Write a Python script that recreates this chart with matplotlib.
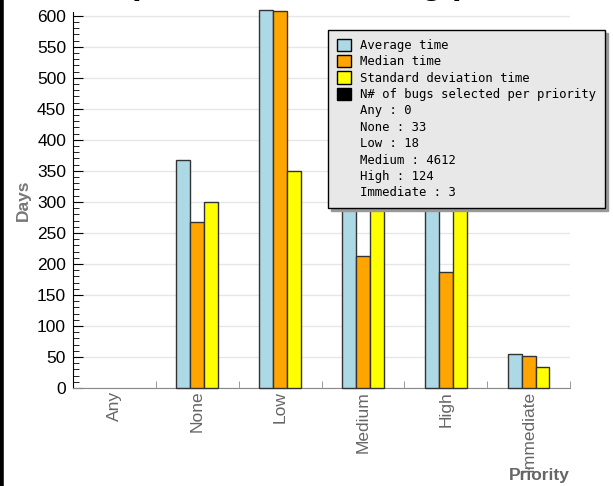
import numpy as np
import matplotlib.pyplot as plt
from matplotlib.patches import Patch
from matplotlib.lines import Line2D

priorities = ["Any", "None", "Low", "Medium", "High", "Immediate"]
average_time = [0, 368, 610, 420, 380, 55]
median_time = [0, 267, 608, 212, 187, 51]
std_time = [0, 300, 350, 440, 400, 34]
bug_counts = [0, 33, 18, 4612, 124, 3]

fig = plt.figure(figsize=(6.13, 4.86), dpi=100)
ax = fig.add_axes([0.119, 0.2016, 0.811, 0.7736])

x = np.arange(len(priorities))
w = 0.167
for off, vals, col in [(-w, average_time, "#add8e6"),
                       (0, median_time, "#ffa500"),
                       (w, std_time, "#ffff00")]:
    edges = ["#333333" if v > 0 else "none" for v in vals]
    ax.bar(x + off, vals, w, color=col, edgecolor=edges, linewidth=1,
           clip_on=False, zorder=3)

ax.set_xlim(-0.5, 5.5)
ax.set_ylim(0, 606)
ax.set_yticks(np.arange(0, 601, 50))
ax.set_yticks(np.arange(0, 601, 10), minor=True)
ax.grid(axis="y", color="#e6e6e6", linewidth=1, zorder=0)
ax.set_axisbelow(True)

ax.set_xticks(x)
ax.set_xticklabels(priorities, rotation=90, color="#666666", fontsize=12.5,
                   family="Liberation Sans")
ax.set_xticks(np.arange(0.5, 5.6, 1), minor=True)
ax.tick_params(axis="x", which="major", length=0, pad=2)
ax.tick_params(axis="x", which="minor", direction="in", length=5, color="#888888")
ax.tick_params(axis="y", which="major", direction="in", length=7, color="black",
               labelsize=12.5, pad=5)
ax.tick_params(axis="y", which="minor", direction="in", length=4, color="black")
for lab in ax.get_yticklabels():
    lab.set_family("Liberation Sans")

for s in ["top", "right"]:
    ax.spines[s].set_visible(False)
ax.spines["bottom"].set_color("#888888")
ax.spines["left"].set_color("black")

ax.set_ylabel("Days", color="#777777", fontsize=12.5, fontweight="bold",
              family="Liberation Sans", labelpad=4)
fig.text(0.93, 0.006, "Priority", color="#666666", fontsize=12.5, fontweight="bold",
         family="Liberation Sans", ha="right", va="bottom")

# big title, cut off by the top edge: only the descenders peek in
fig.text(0.03, 1.0 + 6 / 486, "Development time on bug priorities",
         ha="left", va="baseline", fontsize=25, fontweight="bold",
         color="black", family="Liberation Sans")

handles = [Patch(facecolor="#add8e6", edgecolor="black"),
           Patch(facecolor="#ffa500", edgecolor="black"),
           Patch(facecolor="#ffff00", edgecolor="black"),
           Patch(facecolor="black", edgecolor="black")]
labels = ["Average time", "Median time", "Standard deviation time",
          "N# of bugs selected per priority"]
for p, n in zip(priorities, bug_counts):
    handles.append(Patch(facecolor="none", edgecolor="none"))
    labels.append(f"{p} : {n}")

leg = fig.legend(handles, labels, loc="upper left",
                 bbox_to_anchor=(0.535, 0.938), frameon=True, fancybox=False,
                 shadow={"color": "#999999", "alpha": 1},
                 prop={"family": "DejaVu Sans Mono", "size": 8.8},
                 handlelength=1.15, handleheight=1.15, handletextpad=0.8,
                 labelspacing=0.26, borderpad=0.7, borderaxespad=0)
leg.get_frame().set_facecolor("#e8e8e8")
leg.get_frame().set_edgecolor("black")
leg.get_frame().set_linewidth(1)
leg.get_frame().set_alpha(1)

fig.add_artist(Line2D([0.002, 0.002], [0, 1], color="black", linewidth=4,
                      transform=fig.transFigure))

fig.savefig("out.png", dpi=100)
